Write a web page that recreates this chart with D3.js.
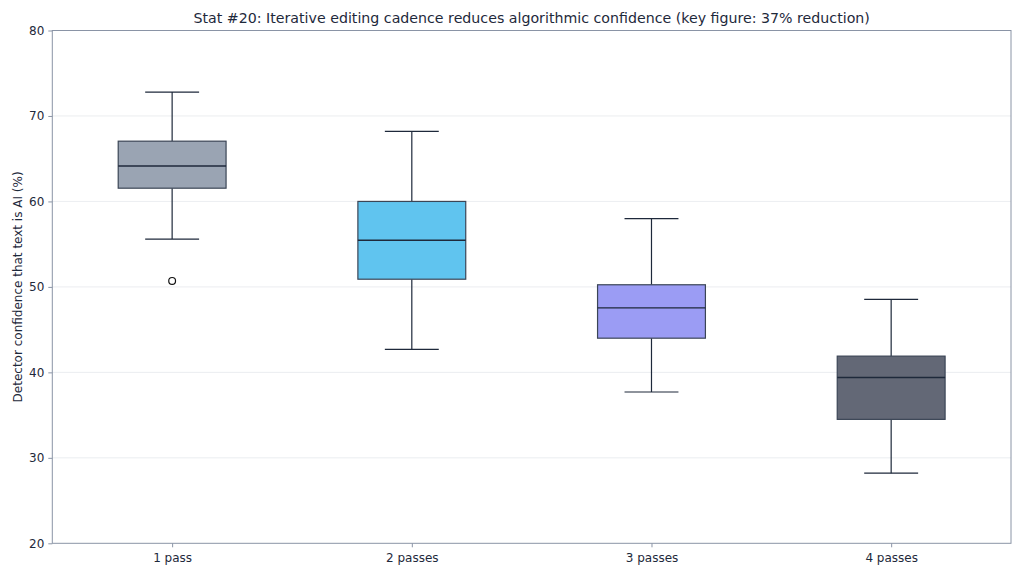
<!DOCTYPE html>
<html>
<head>
<meta charset="utf-8">
<script src="https://cdn.jsdelivr.net/npm/d3@7"></script>
<style>
  html, body { margin: 0; padding: 0; background: #fff; }
  svg { display: block; font-family: "DejaVu Sans", sans-serif; }
</style>
</head>
<body>
<svg id="chart" width="1024" height="576"></svg>
<script>
// Box stats (percent)
const categories = ['1 pass', '2 passes', '3 passes', '4 passes'];
const whiskerHigh = [72.8, 68.2, 58.0, 48.55];
const q3Values = [67.05, 60.0, 50.25, 41.9];
const medians = [64.15, 55.45, 47.55, 39.4];
const q1Values = [61.55, 50.9, 44.0, 34.5];
const whiskerLow = [55.6, 42.7, 37.7, 28.2];
const outliers = [[50.7], [], [], []];
const boxColors = ['#9aa4b3', '#60c4ef', '#9b9cf4', '#636876'];
const yTicks = [20, 30, 40, 50, 60, 70, 80];

const title = 'Stat #20: Iterative editing cadence reduces algorithmic confidence (key figure: 37% reduction)';
const yLabel = 'Detector confidence that text is AI (%)';

const ink = '#1e293b';
const margin = { top: 30.5, right: 13, bottom: 32.7, left: 52.3 };
const W = 1024, H = 576;
const iw = W - margin.left - margin.right;
const ih = H - margin.top - margin.bottom;

const svg = d3.select('#chart');
const g = svg.append('g').attr('transform', `translate(${margin.left},${margin.top})`);

const x = d3.scalePoint().domain(categories).range([0, iw]).padding(0.5);
const step = x.step();
const boxW = step * 0.45;
const capW = boxW / 2;
const y = d3.scaleLinear().domain([20, 80]).range([ih, 0]);

// grid
g.append('g').selectAll('line')
  .data(yTicks.slice(1, -1))
  .join('line')
  .attr('x1', 0).attr('x2', iw)
  .attr('y1', (d) => y(d)).attr('y2', (d) => y(d))
  .attr('stroke', '#e6e8ec').attr('stroke-width', 0.8);

const rows = categories.map((c, i) => ({
  cat: c, lo: whiskerLow[i], q1: q1Values[i], med: medians[i], q3: q3Values[i], hi: whiskerHigh[i],
  out: outliers[i], color: boxColors[i],
}));

const box = g.append('g').selectAll('g.box').data(rows).join('g').attr('class', 'box')
  .attr('transform', (d) => `translate(${x(d.cat)},0)`);

// whiskers
box.append('line').attr('x1', 0).attr('x2', 0)
  .attr('y1', (d) => y(d.q3)).attr('y2', (d) => y(d.hi))
  .attr('stroke', ink).attr('stroke-width', 1.2);
box.append('line').attr('x1', 0).attr('x2', 0)
  .attr('y1', (d) => y(d.q1)).attr('y2', (d) => y(d.lo))
  .attr('stroke', ink).attr('stroke-width', 1.2);
box.append('line').attr('x1', -capW / 2).attr('x2', capW / 2)
  .attr('y1', (d) => y(d.hi)).attr('y2', (d) => y(d.hi))
  .attr('stroke', ink).attr('stroke-width', 1.2);
box.append('line').attr('x1', -capW / 2).attr('x2', capW / 2)
  .attr('y1', (d) => y(d.lo)).attr('y2', (d) => y(d.lo))
  .attr('stroke', ink).attr('stroke-width', 1.2);

// boxes
box.append('rect')
  .attr('x', -boxW / 2).attr('width', boxW)
  .attr('y', (d) => y(d.q3)).attr('height', (d) => y(d.q1) - y(d.q3))
  .attr('fill', (d) => d.color)
  .attr('stroke', '#3b4556').attr('stroke-width', 1.2);

// medians
box.append('line').attr('x1', -boxW / 2).attr('x2', boxW / 2)
  .attr('y1', (d) => y(d.med)).attr('y2', (d) => y(d.med))
  .attr('stroke', ink).attr('stroke-width', 1.4);

// fliers
box.selectAll('circle').data((d) => d.out).join('circle')
  .attr('cx', 0).attr('cy', (v) => y(v)).attr('r', 3.4)
  .attr('fill', 'none').attr('stroke', '#111').attr('stroke-width', 1.2);

// axes
const yAxis = g.append('g').call(d3.axisLeft(y).tickValues(yTicks).tickSize(4).tickPadding(4));
const xAxis = g.append('g').attr('transform', `translate(0,${ih})`)
  .call(d3.axisBottom(x).tickSize(4).tickPadding(6));
[yAxis, xAxis].forEach((a) => {
  a.select('.domain').remove();
  a.selectAll('.tick line').attr('stroke', '#8a94a6');
  a.selectAll('.tick text').attr('fill', ink).style('font-size', '12px')
    .style('font-family', '"DejaVu Sans", sans-serif');
});

// frame
g.append('rect').attr('x', 0).attr('y', 0).attr('width', iw).attr('height', ih)
  .attr('fill', 'none').attr('stroke', '#8a94a6').attr('stroke-width', 1);

svg.append('text')
  .attr('x', margin.left + iw / 2).attr('y', 23)
  .attr('text-anchor', 'middle').attr('fill', ink)
  .style('font-size', '14.2px')
  .text(title);

svg.append('text')
  .attr('transform', `translate(22,${margin.top + ih / 2}) rotate(-90)`)
  .attr('text-anchor', 'middle').attr('fill', ink)
  .style('font-size', '12px')
  .text(yLabel);
</script>
</body>
</html>
